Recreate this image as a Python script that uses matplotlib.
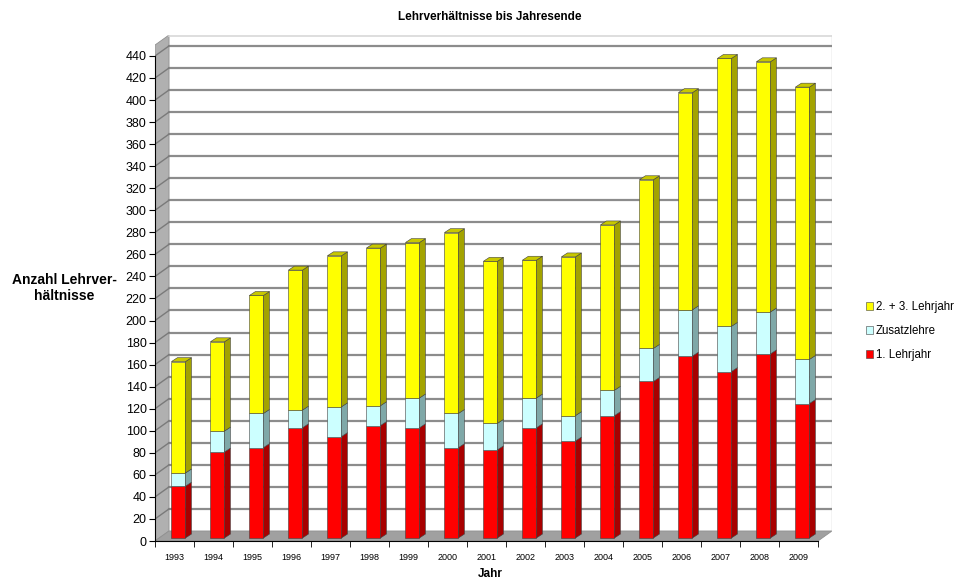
import numpy as np
import matplotlib.pyplot as plt
from matplotlib.patches import Polygon

plt.rcParams['font.family'] = ['Liberation Sans', 'DejaVu Sans']

jahre = ['1993', '1994', '1995', '1996', '1997', '1998', '1999', '2000', '2001',
         '2002', '2003', '2004', '2005', '2006', '2007', '2008', '2009']
erstes = [47, 78, 82, 100, 92, 102, 100, 82, 80, 100, 88, 111, 142, 165, 151, 167, 122]
zusatz = [12, 19, 31, 16, 27, 18, 27, 31, 24, 27, 23, 23, 30, 42, 41, 38, 40]
zweites = [101, 81, 107, 127, 137, 143, 141, 164, 147, 125, 144, 150, 153, 197, 243, 227, 247]

serien = [
    ('1. Lehrjahr', erstes, '#ff0000', '#a80000', '#d00000'),
    ('Zusatzlehre', zusatz, '#ccffff', '#7fa8a8', '#a8d8d8'),
    ('2. + 3. Lehrjahr', zweites, '#ffff00', '#a3a300', '#c8c800'),
]

fig = plt.figure(figsize=(9.58, 5.83), dpi=100)
ax = fig.add_axes([155 / 958, 1 - 541 / 583, (832 - 155) / 958, (541 - 35) / 583])

n = len(jahre)
ymax = 459
# Tiefe der Rueckwand / Balken (3D-Optik)
dxw, dyw = 0.36, 9.1
dxb, dyb = 0.155, 3.6
ox, oy = 0.1, 2.7
breite = 0.36

ax.set_xlim(-0.5, n - 0.5 + dxw)
ax.set_ylim(0, ymax)

# Seitenwand und Boden
ax.add_patch(Polygon([(-0.5, 0), (-0.5 + dxw, dyw), (-0.5 + dxw, ymax), (-0.5, ymax - dyw)],
                     closed=True, fc='#b0b0b0', ec='#909090', lw=0.6, zorder=1))
ax.add_patch(Polygon([(-0.5, 0), (n - 0.5, 0), (n - 0.5 + dxw, dyw), (-0.5 + dxw, dyw)],
                     closed=True, fc='#a0a0a0', ec='#909090', lw=0.6, zorder=1))
ax.plot([n - 0.5 + dxw, n - 0.5 + dxw], [dyw, ymax], color='#c8c8c8', lw=1.0, zorder=1)
ax.plot([-0.5 + dxw, n - 0.5 + dxw], [ymax - 0.5, ymax - 0.5], color='#d8d8d8', lw=1.2, zorder=1)

yticks = np.arange(0, 441, 20)
for v in yticks[1:]:
    ax.plot([-0.5 + dxw, n - 0.5 + dxw], [v + dyw, v + dyw], color='#8c8c8c', lw=1.6, zorder=1.5)
    ax.plot([-0.5, -0.5 + dxw], [v, v + dyw], color='#7a7a7a', lw=1.0, zorder=1.5)

# Balken
x = np.arange(n)
unten = np.zeros(n)
for name, werte, farbe, seite, oben in serien:
    werte = np.array(werte, dtype=float)
    ax.bar(x + ox, werte, width=breite, bottom=unten + oy, color=farbe,
           edgecolor='#404040', linewidth=0.4, zorder=3, label=name)
    for i in range(n):
        x0 = x[i] + ox + breite / 2
        y0 = unten[i] + oy
        y1 = y0 + werte[i]
        ax.add_patch(Polygon([(x0, y0), (x0 + dxb, y0 + dyb), (x0 + dxb, y1 + dyb), (x0, y1)],
                             closed=True, fc=seite, ec='#404040', lw=0.4, zorder=3))
        if name == serien[-1][0]:
            xl = x[i] + ox - breite / 2
            ax.add_patch(Polygon([(xl, y1), (x0, y1), (x0 + dxb, y1 + dyb), (xl + dxb, y1 + dyb)],
                                 closed=True, fc=oben, ec='#404040', lw=0.4, zorder=3))
    unten = unten + werte

# Achsen
for s in ['top', 'right']:
    ax.spines[s].set_visible(False)
ax.spines['left'].set_bounds(0, 440)
ax.spines['bottom'].set_bounds(-0.5, n - 0.5)
ax.spines['left'].set_zorder(4)
ax.spines['bottom'].set_zorder(4)
ax.set_yticks(yticks)
ax.tick_params(axis='y', labelsize=9, length=4, pad=2)
ax.set_xticks(x)
ax.set_xticklabels(jahre, fontsize=6.5)
ax.set_xticks(np.arange(-0.5, n, 1), minor=True)
ax.tick_params(axis='x', which='major', length=0, pad=9)
ax.tick_params(axis='x', which='minor', length=4)

fig.text(490 / 958, 1 - 17 / 583, 'Lehrverhältnisse bis Jahresende', ha='center', va='center',
         fontsize=8.5, fontweight='bold')
fig.text(490 / 958, 1 - 574 / 583, 'Jahr', ha='center', va='center', fontsize=8.5, fontweight='bold')
fig.text(64 / 958, 1 - 288 / 583, 'Anzahl Lehrver-\nhältnisse', ha='center', va='center',
         fontsize=10, fontweight='bold', linespacing=1.1)

h, l = ax.get_legend_handles_labels()
fig.legend(h[::-1], l[::-1], loc='center left', bbox_to_anchor=(860 / 958, 1 - 331 / 583),
           frameon=False, fontsize=8.3, handlelength=0.65, handleheight=0.65, handletextpad=0.2,
           labelspacing=1.05, borderpad=0)

fig.savefig('out.png', dpi=100)
